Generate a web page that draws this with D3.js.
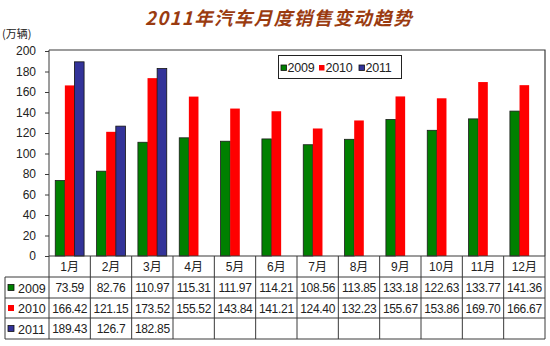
<!DOCTYPE html>
<html>
<head>
<meta charset="utf-8">
<script src="https://cdn.jsdelivr.net/npm/d3@7/dist/d3.min.js"></script>
<style>
  html, body { margin: 0; padding: 0; background: #fff; }
  svg { display: block; }
  text { font-family: "Liberation Sans", Arial, "Noto Sans CJK SC", sans-serif; }
</style>
</head>
<body>
<svg id="chart" width="550" height="346"></svg>
<script>
// Monthly car sales (10k units), 2009-2011
const months = ["1月","2月","3月","4月","5月","6月","7月","8月","9月","10月","11月","12月"];
const seriesNames = ["2009","2010","2011"];
const sales2009 = [73.59, 82.76, 110.97, 115.31, 111.97, 114.21, 108.56, 113.85, 133.18, 122.63, 133.77, 141.36];
const sales2010 = [166.42, 121.15, 173.52, 155.52, 143.84, 141.21, 124.40, 132.23, 155.67, 153.86, 169.70, 166.67];
const sales2011 = [189.43, 126.7, 182.85];
const yTicks = [0, 20, 40, 60, 80, 100, 120, 140, 160, 180, 200];

const seriesColors = { "2009": "#008000", "2010": "#ff0000", "2011": "#333399" };
const seriesStroke = { "2009": "#1a1a1a", "2010": "none", "2011": "#111" };
const seriesDecimals = { "2009": null, "2010": 2, "2011": null };
const seriesData = [
  { name: "2009", values: sales2009 },
  { name: "2010", values: sales2010 },
  { name: "2011", values: sales2011 }
];

const svg = d3.select("#chart");
const plot = { left: 49, right: 545, top: 51, bottom: 256 };
const lineColor = "#3a3a3a";

// Title
svg.append("text")
  .attr("x", 279).attr("y", 25)
  .attr("text-anchor", "middle")
  .style("font-family", "'Noto Sans CJK SC', sans-serif")
  .style("font-size", "18.5px")
  .style("font-weight", "bold")
  .style("font-style", "italic")
  .style("letter-spacing", "1.4px")
  .attr("fill", "#9a3b10")
  .text("2011年汽车月度销售变动趋势");

// Unit label
svg.append("text")
  .attr("x", 2).attr("y", 38)
  .style("font-family", "'Noto Sans CJK SC', sans-serif")
  .style("font-size", "11px")
  .attr("fill", "#222")
  .text("(万辆)");

// Scales
const x = d3.scaleBand().domain(months).range([plot.left, plot.right]).paddingInner(0).paddingOuter(0);
const xs = d3.scaleBand().domain(seriesNames).range([0, x.bandwidth()]).paddingInner(0).paddingOuter(0.65);
const y = d3.scaleLinear().domain([0, 200]).range([plot.bottom, plot.top]);

// Plot frame (top and right edges)
svg.append("path")
  .attr("d", `M${plot.left},${plot.top - 1}H${plot.right}V${plot.bottom}`)
  .attr("fill", "none").attr("stroke", lineColor).attr("stroke-width", 1.2);

// Y axis
const yAxis = d3.axisLeft(y).tickValues(yTicks).tickSize(4).tickPadding(9);
const gy = svg.append("g").attr("transform", `translate(${plot.left},0)`).call(yAxis);
gy.select(".domain").attr("stroke", lineColor).attr("d", `M0,${plot.top - 1}V${plot.bottom}`);
gy.selectAll(".tick line").attr("stroke", lineColor);
gy.selectAll(".tick text")
  .style("font-family", "'Liberation Sans', Arial, sans-serif")
  .style("font-size", "12px").attr("fill", "#222");

// Bars
seriesData.forEach(s => {
  svg.append("g").selectAll("rect")
    .data(s.values.map((v, i) => ({ m: months[i], v })))
    .join("rect")
    .attr("x", d => x(d.m) + xs(s.name))
    .attr("y", d => y(d.v))
    .attr("width", xs.bandwidth())
    .attr("height", d => y(0) - y(d.v))
    .attr("fill", seriesColors[s.name])
    .attr("stroke", seriesStroke[s.name])
    .attr("stroke-width", 0.8);
});

// Legend
const legend = svg.append("g").attr("transform", "translate(278,55)");
legend.append("rect").attr("x", 0.5).attr("y", 0.5).attr("width", 123).attr("height", 23)
  .attr("fill", "#fff").attr("stroke", "#222").attr("stroke-width", 1);
const legendX = [3, 41, 81];
seriesNames.forEach((n, i) => {
  const g = legend.append("g").attr("transform", `translate(${legendX[i]},0)`);
  g.append("rect").attr("x", 0).attr("y", 10).attr("width", 5.5).attr("height", 5.5)
    .attr("fill", seriesColors[n]).attr("stroke", seriesStroke[n] === "none" ? "none" : "#111").attr("stroke-width", 0.8);
  g.append("text").attr("x", 6.5).attr("y", 16.5)
    .style("font-size", "12.5px").style("letter-spacing", "-0.2px")
    .attr("fill", "#222").text(n);
});

// Data table below the axis
const rowEdges = [256, 277, 298, 318, 339];
const tableLeft = 5;
const table = svg.append("g");
const fmt = (v, name) => seriesDecimals[name] == null ? String(v) : v.toFixed(seriesDecimals[name]);

// horizontal rules
rowEdges.forEach((ry, i) => {
  table.append("line")
    .attr("x1", i === 0 ? plot.left : tableLeft).attr("x2", plot.right)
    .attr("y1", ry).attr("y2", ry)
    .attr("stroke", lineColor).attr("stroke-width", i === 0 ? 1.2 : 1);
});
// vertical rules
const colEdges = months.map(m => x(m)).concat([plot.right]);
colEdges.forEach(cx => {
  table.append("line").attr("x1", cx).attr("x2", cx)
    .attr("y1", rowEdges[0]).attr("y2", rowEdges[4])
    .attr("stroke", lineColor).attr("stroke-width", 1);
});
table.append("line").attr("x1", tableLeft).attr("x2", tableLeft)
  .attr("y1", rowEdges[1]).attr("y2", rowEdges[4])
  .attr("stroke", lineColor).attr("stroke-width", 1);

// month header
months.forEach(m => {
  table.append("text")
    .attr("x", x(m) + x.bandwidth() / 2).attr("y", 271)
    .attr("text-anchor", "middle")
    .style("font-family", "'Liberation Sans', 'Noto Sans CJK SC', sans-serif")
    .style("font-size", "12px").attr("fill", "#222").text(m);
});

// series rows
seriesData.forEach((s, r) => {
  const cy = (rowEdges[r + 1] + rowEdges[r + 2]) / 2;
  table.append("rect")
    .attr("x", 8).attr("y", cy - 3).attr("width", 6).attr("height", 6)
    .attr("fill", seriesColors[s.name])
    .attr("stroke", seriesStroke[s.name] === "none" ? "none" : "#111").attr("stroke-width", 0.8);
  table.append("text")
    .attr("x", 18).attr("y", cy + 5)
    .style("font-size", "12.5px").attr("fill", "#222").text(s.name);
  s.values.forEach((v, i) => {
    table.append("text")
      .attr("x", x(months[i]) + x.bandwidth() / 2).attr("y", cy + 4.5)
      .attr("text-anchor", "middle")
      .style("font-size", "12px").style("letter-spacing", "-0.3px")
      .attr("fill", "#222").text(fmt(v, s.name));
  });
});
</script>
</body>
</html>
